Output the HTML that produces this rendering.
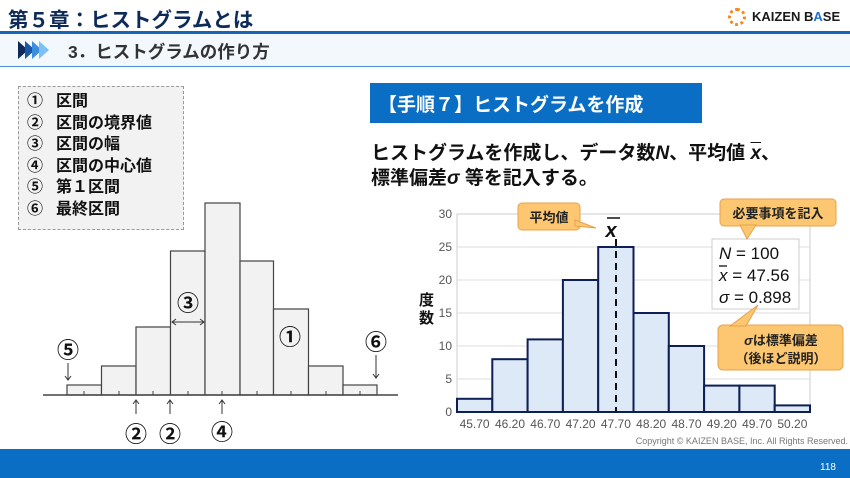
<!DOCTYPE html>
<html><head><meta charset="utf-8"><style>
body{margin:0;width:850px;height:478px;overflow:hidden;background:#fff;font-family:"Liberation Sans","Noto Sans CJK JP",sans-serif;position:relative}
.a{position:absolute}
.l span{display:inline-block;width:29px}
</style></head><body>
<div class="a" style="left:8px;top:3px;font-size:20.5px;font-weight:bold;color:#0d2a5a">第５章：ヒストグラムとは</div>
<div class="a" style="left:728px;top:8px;width:18px;height:18px;border-radius:50%;border:3px dotted #f08a1c;box-sizing:border-box"></div>
<div class="a" style="left:752px;top:9px;font-size:13px;font-weight:bold;color:#1a1a1a">KAIZEN B<span style="color:#1e6fd0">A</span>SE</div>
<div class="a" style="left:0;top:31px;width:850px;height:3px;background:#1565b8"></div>
<div class="a" style="left:0;top:34px;width:850px;height:32px;background:#f3f8fd"></div>
<div class="a" style="left:0;top:66px;width:850px;height:1px;background:#4a90d0"></div>
<svg class="a" style="left:18px;top:41px" width="40" height="18"><polygon points="0,0 10,9 0,18" fill="#0d2a5a"/><polygon points="7,0 17,9 7,18" fill="#1a57a8"/><polygon points="14,0 24,9 14,18" fill="#3b8ee0"/><polygon points="21,0 31,9 21,18" fill="#7cc0f5"/></svg>
<div class="a" style="left:68px;top:39px;font-size:17.5px;font-weight:bold;color:#333">3．ヒストグラムの作り方</div>

<div class="a" style="left:18px;top:86px;width:166px;height:144px;border:1px dashed #999;background:#f2f2f2;box-sizing:border-box"></div>
<div class="a l" style="left:27px;top:91px;font-size:16px;font-weight:bold;line-height:21.5px;color:#111"><span>①</span>区間<br><span>②</span>区間の境界値<br><span>③</span>区間の幅<br><span>④</span>区間の中心値<br><span>⑤</span>第１区間<br><span>⑥</span>最終区間</div>

<svg class="a" style="left:0;top:0" width="410" height="450">
<g fill="#f2f2f2" stroke="#444" stroke-width="1.2">
<rect x="67" y="385" width="34.5" height="10"/><rect x="101.5" y="366" width="34.5" height="29"/><rect x="136" y="327" width="34.5" height="68"/><rect x="170.5" y="251" width="34.5" height="144"/><rect x="205" y="203" width="35" height="192"/><rect x="240" y="261" width="33.5" height="134"/><rect x="273.5" y="309" width="35" height="86"/><rect x="308.5" y="366" width="34.5" height="29"/><rect x="343" y="385" width="34" height="10"/>
</g>
<line x1="43" y1="395" x2="398" y2="395" stroke="#444" stroke-width="1.5"/>
<g stroke="#444"><line x1="84" y1="391" x2="84" y2="395"/><line x1="119" y1="391" x2="119" y2="395"/><line x1="153" y1="391" x2="153" y2="395"/><line x1="188" y1="391" x2="188" y2="395"/><line x1="222" y1="391" x2="222" y2="395"/><line x1="257" y1="391" x2="257" y2="395"/><line x1="291" y1="391" x2="291" y2="395"/><line x1="326" y1="391" x2="326" y2="395"/><line x1="360" y1="391" x2="360" y2="395"/></g>
<g stroke="#333" fill="none"><line x1="172" y1="322" x2="204" y2="322"/><polyline points="176,319 172,322 176,325"/><polyline points="200,319 204,322 200,325"/>
<line x1="68" y1="363" x2="68" y2="380"/><polyline points="65,376 68,380 71,376"/>
<line x1="376" y1="355" x2="376" y2="378"/><polyline points="373,374 376,378 379,374"/>
<line x1="136" y1="401" x2="136" y2="414"/><polyline points="133,404 136,400 139,404"/>
<line x1="170" y1="401" x2="170" y2="414"/><polyline points="167,404 170,400 173,404"/>
<line x1="222" y1="401" x2="222" y2="414"/><polyline points="219,404 222,400 225,404"/></g>
<g font-size="22" font-weight="bold" font-family="Liberation Sans,Noto Sans CJK JP,sans-serif" fill="#111" text-anchor="middle">
<text x="188" y="311">③</text><text x="290" y="345">①</text><text x="68" y="358">⑤</text><text x="376" y="350">⑥</text><text x="136" y="442">②</text><text x="170" y="442">②</text><text x="222" y="440">④</text></g>
</svg>

<div class="a" style="left:370px;top:83px;width:332px;height:40px;background:#0a6ec4"></div>
<div class="a" style="left:378px;top:90px;font-size:19px;font-weight:bold;color:#fff">【手順７】ヒストグラムを作成</div>
<div class="a" style="left:371px;top:141px;font-size:19px;font-weight:bold;line-height:25px;color:#111">ヒストグラムを作成し、データ数<i>N</i>、平均値 <i style="text-decoration:overline">x</i>、<br>標準偏差<i>σ</i> 等を記入する。</div>

<svg class="a" style="left:410px;top:195px" width="440" height="252" font-family="Liberation Sans,Noto Sans CJK JP,sans-serif">
<rect x="47" y="19" width="353" height="198" fill="#fff" stroke="#ccc"/>
<g stroke="#ddd"><line x1="47" y1="52" x2="400" y2="52"/><line x1="47" y1="85" x2="400" y2="85"/><line x1="47" y1="118" x2="400" y2="118"/><line x1="47" y1="151" x2="400" y2="151"/><line x1="47" y1="184" x2="400" y2="184"/></g>
<g font-size="12" fill="#555" text-anchor="end"><text x="42" y="23">30</text><text x="42" y="56">25</text><text x="42" y="89">20</text><text x="42" y="122">15</text><text x="42" y="155">10</text><text x="42" y="188">5</text><text x="42" y="221">0</text></g>
<g fill="#dde9f6" stroke="#0d1f55" stroke-width="2">
<rect x="47" y="203.8" width="35.3" height="13.2"/><rect x="82.3" y="164.2" width="35.3" height="52.8"/><rect x="117.6" y="144.4" width="35.3" height="72.6"/><rect x="152.9" y="85" width="35.3" height="132"/><rect x="188.2" y="52" width="35.3" height="165"/><rect x="223.5" y="118" width="35.3" height="99"/><rect x="258.8" y="151" width="35.3" height="66"/><rect x="294.1" y="190.6" width="35.3" height="26.4"/><rect x="329.4" y="190.6" width="35.3" height="26.4"/><rect x="364.7" y="210.4" width="35.3" height="6.6"/></g>
<line x1="206" y1="44" x2="206" y2="217" stroke="#111" stroke-width="2" stroke-dasharray="7,5"/>
<g font-size="12" fill="#555" text-anchor="middle"><text x="64.6" y="233">45.70</text><text x="100" y="233">46.20</text><text x="135.3" y="233">46.70</text><text x="170.6" y="233">47.20</text><text x="205.9" y="233">47.70</text><text x="241.2" y="233">48.20</text><text x="276.5" y="233">48.70</text><text x="311.8" y="233">49.20</text><text x="347.1" y="233">49.70</text><text x="382.4" y="233">50.20</text></g>
<text x="9" y="110" font-size="15" font-weight="bold" fill="#111">度</text><text x="9" y="128" font-size="15" font-weight="bold" fill="#111">数</text>
<line x1="197" y1="23" x2="210" y2="23" stroke="#111" stroke-width="1.5"/>
<text x="201" y="42" font-size="20" font-style="italic" font-weight="bold" text-anchor="middle" fill="#111">x</text>
<g fill="#fcc770" stroke="#e8a24a"><rect x="108" y="8" width="62" height="27" rx="4"/><polygon points="165,25 186,33 165,31"/></g>
<text x="139" y="27" font-size="13" font-weight="bold" text-anchor="middle" fill="#222">平均値</text>
<rect x="302" y="44" width="87" height="70" fill="#fff" stroke="#ccc"/>
<g font-size="17" fill="#111"><text x="309" y="64"><tspan font-style="italic">N</tspan> = 100</text><text x="309" y="86"><tspan font-style="italic">x</tspan> = 47.56</text><text x="309" y="108"><tspan font-style="italic">σ</tspan> = 0.898</text></g>
<line x1="309" y1="71" x2="317" y2="71" stroke="#111" stroke-width="1.3"/>
<g fill="#fcc770" stroke="#e8a24a"><rect x="310" y="4" width="116" height="27" rx="4"/><polygon points="330,30 337,44 346,30"/>
<rect x="308" y="130" width="125" height="45" rx="5"/><polygon points="320,131 348,110 336,131"/></g>
<text x="368" y="23" font-size="13" font-weight="bold" text-anchor="middle" fill="#222">必要事項を記入</text>
<text x="371" y="150" font-size="13" font-weight="bold" text-anchor="middle" fill="#222"><tspan font-style="italic">σ</tspan>は標準偏差</text>
<text x="371" y="168" font-size="13" font-weight="bold" text-anchor="middle" fill="#222">（後ほど説明）</text>
<text x="438" y="249" font-size="9" fill="#777" text-anchor="end">Copyright ©  KAIZEN BASE, Inc.  All Rights Reserved.</text>
</svg>

<div class="a" style="left:0;top:449px;width:850px;height:29px;background:#0a6ec4"></div>
<div class="a" style="left:820px;top:462px;font-size:10px;color:#fff">118</div>
</body></html>
